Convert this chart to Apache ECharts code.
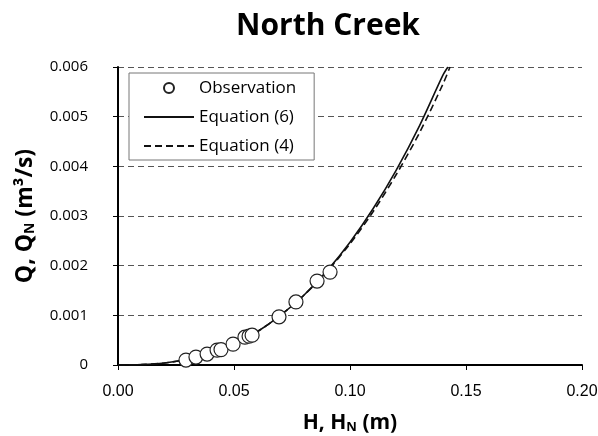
<!DOCTYPE html>
<html>
<head>
<meta charset="utf-8">
<script src="https://cdn.jsdelivr.net/npm/echarts@6/dist/echarts.min.js"></script>
<style>
  html, body { margin: 0; padding: 0; background: #fff; }
  #main { width: 598px; height: 436px; }
</style>
</head>
<body>
<div id="main"></div>
<script>
// observed points [H, Q]
var obsH = [0.0293, 0.0336, 0.0384, 0.0427, 0.0444, 0.0496, 0.0547, 0.0565, 0.0578, 0.0694, 0.0767, 0.0858, 0.0914];
var obsQ = [0.00010, 0.00016, 0.00022, 0.00030, 0.00031, 0.00042, 0.00056, 0.00058, 0.00060, 0.00097, 0.00127, 0.00169, 0.00187];

// Equation (6), solid
var eq6H = [0, 0.01, 0.02, 0.03, 0.04, 0.05, 0.06, 0.07, 0.08, 0.09, 0.10, 0.11, 0.12, 0.13, 0.14, 0.1422];
var eq6Q = [0, 0.000007, 0.000041, 0.000115, 0.00024, 0.00042, 0.00067, 0.00100, 0.00140, 0.00189, 0.00247, 0.00315, 0.00393, 0.00482, 0.00583, 0.00600];

// Equation (4), dashed
var eq4H = [0, 0.01, 0.02, 0.03, 0.04, 0.05, 0.06, 0.07, 0.08, 0.09, 0.10, 0.11, 0.12, 0.13, 0.14, 0.1431];
var eq4Q = [0, 0.000007, 0.000041, 0.000115, 0.00024, 0.00042, 0.00067, 0.00100, 0.00140, 0.00188, 0.00244, 0.00309, 0.00384, 0.00468, 0.00565, 0.00600];

function pairs(xs, ys) {
  return xs.map(function (x, i) { return [x, ys[i]]; });
}

var boldName = {
  n: { fontFamily: 'Open Sans', fontWeight: 'bold', fontSize: 21, color: '#000', lineHeight: 26, verticalAlign: 'bottom' },
  s: { fontFamily: 'Open Sans', fontWeight: 'bold', fontSize: 13, color: '#000', lineHeight: 12, verticalAlign: 'bottom' }
};
var boldNameY = {
  n: { fontFamily: 'Open Sans', fontWeight: 'bold', fontSize: 23, color: '#000', lineHeight: 28, verticalAlign: 'bottom' },
  s: { fontFamily: 'Open Sans', fontWeight: 'bold', fontSize: 14, color: '#000', lineHeight: 12, verticalAlign: 'bottom' }
};

var chart = echarts.init(document.getElementById('main'));
var option = {
  animation: false,
  backgroundColor: '#fff',
  title: {
    text: 'North Creek',
    left: 323,
    textAlign: 'center',
    top: 6,
    textStyle: { fontFamily: 'Open Sans', fontWeight: 'bold', fontSize: 30, color: '#000' }
  },
  legend: {
    orient: 'vertical',
    left: 129,
    top: 73,
    padding: [5, 18, 4, 14],
    itemWidth: 50,
    itemHeight: 10,
    itemGap: 9,
    borderColor: '#777',
    borderWidth: 1,
    backgroundColor: '#fff',
    textStyle: { fontFamily: 'Open Sans', fontSize: 17, lineHeight: 20, color: '#000' },
    data: [
      'Observation',
      { name: 'Equation (6)', itemStyle: { opacity: 0 } },
      { name: 'Equation (4)', itemStyle: { opacity: 0 } }
    ]
  },
  grid: { left: 118, right: 16, top: 67, bottom: 71, outerBoundsMode: 'none' },
  xAxis: {
    type: 'value',
    min: 0,
    max: 0.2,
    interval: 0.05,
    name: '{n|H, H}{s|N}{n| (m)}',
    nameLocation: 'middle',
    nameGap: 43,
    nameTextStyle: { rich: boldName },
    axisLine: { lineStyle: { color: '#000', width: 2 } },
    axisTick: { show: true, length: 5, lineStyle: { color: '#000', width: 1 } },
    axisLabel: {
      margin: 19,
      fontFamily: 'Liberation Sans',
      fontSize: 16,
      color: '#000',
      formatter: function (v) { return v.toFixed(2); }
    },
    splitLine: { show: false }
  },
  yAxis: {
    type: 'value',
    min: 0,
    max: 0.006,
    interval: 0.001,
    name: '{n|Q, Q}{s|N}{n| (m³/s)}',
    nameLocation: 'middle',
    nameGap: 81,
    nameTextStyle: { rich: boldNameY },
    axisLine: { show: true, lineStyle: { color: '#000', width: 2 } },
    axisTick: { show: true, length: 5, lineStyle: { color: '#000', width: 1 } },
    axisLabel: {
      margin: 30,
      fontFamily: 'Open Sans',
      fontSize: 15,
      color: '#000',
      formatter: function (v) { return v === 0 ? '0' : v.toFixed(3); }
    },
    splitLine: { show: true, lineStyle: { color: '#555', width: 1, type: [6, 4] } }
  },
  series: [
    {
      name: 'Equation (6)',
      type: 'line',
      data: pairs(eq6H, eq6Q),
      symbol: 'none',
      smooth: 0.3,
      lineStyle: { color: '#111', width: 1.6, type: 'solid' },
      itemStyle: { color: '#111' },
      z: 2
    },
    {
      name: 'Equation (4)',
      type: 'line',
      data: pairs(eq4H, eq4Q),
      symbol: 'none',
      smooth: 0.3,
      lineStyle: { color: '#111', width: 1.6, type: [7, 4] },
      itemStyle: { color: '#111' },
      z: 2
    },
    {
      name: 'Observation',
      type: 'scatter',
      data: pairs(obsH, obsQ),
      symbol: 'circle',
      symbolSize: 14,
      itemStyle: { color: '#fff', borderColor: '#222', borderWidth: 1.2, opacity: 1 },
      z: 5
    }
  ]
};
chart.setOption(option);
</script>
</body>
</html>
